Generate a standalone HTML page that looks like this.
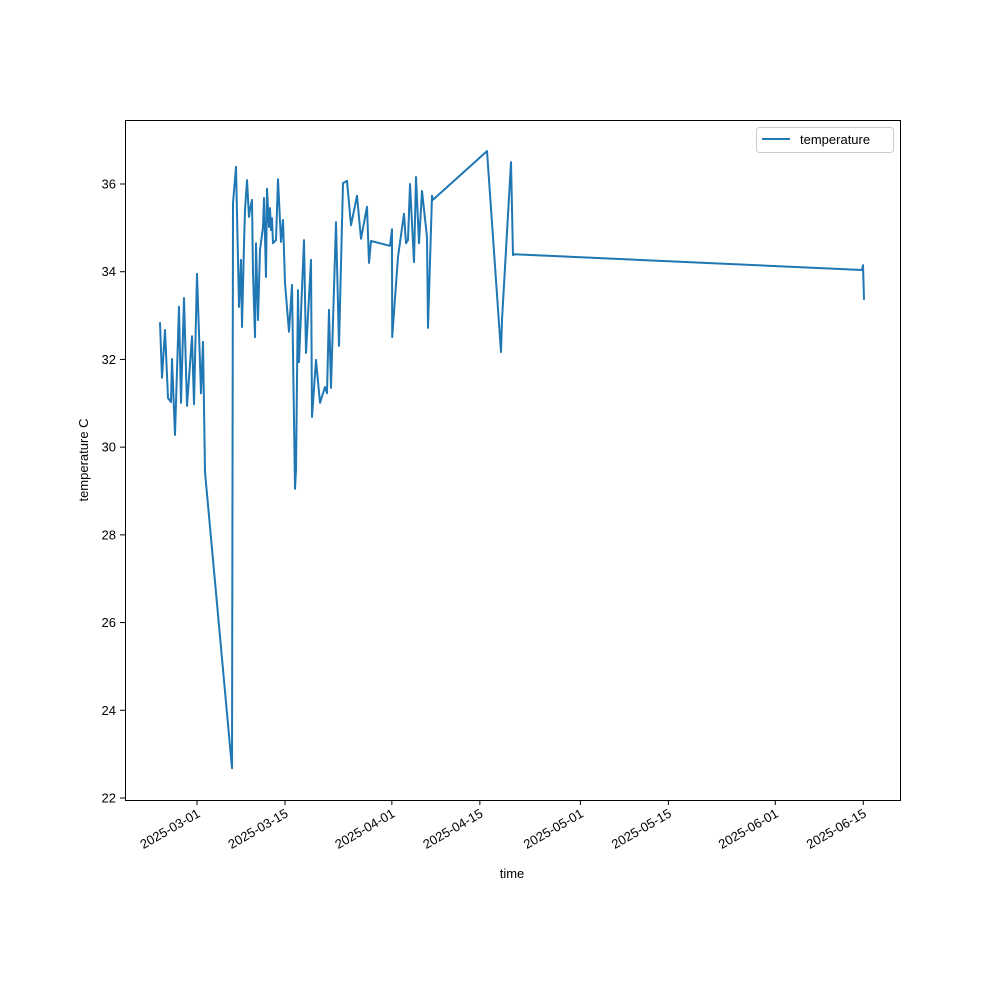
<!DOCTYPE html>
<html><head><meta charset="utf-8"><style>
body{margin:0;background:#fff}
svg{font-family:"Liberation Sans","DejaVu Sans",sans-serif}
</style></head><body>
<svg id="chart" width="1000" height="1000">
<rect x="0" y="0" width="1000" height="1000" fill="#fff"/>
<g id="plot"></g>
<rect x="125.5" y="120.5" width="775" height="680" fill="none" stroke="#000" stroke-width="1"/>
<g id="xt"></g><g id="yt"></g>
<text x="512" y="878" font-size="13" text-anchor="middle">time</text>
<text x="88" y="460" font-size="13" text-anchor="middle" transform="rotate(-90 88 460)">temperature C</text>
<g>
<rect x="756.5" y="127.5" width="137" height="25" rx="3" fill="#fff" stroke="#ccc"/>
<line x1="762" y1="139" x2="790" y2="139" stroke="#1f77b4" stroke-width="2"/>
<text x="800" y="144" font-size="13">temperature</text>
</g>
</svg>
<script>
const days=[-5.89,-5.57,-5.09,-4.61,-4.14,-3.98,-3.50,-2.86,-2.55,-2.07,-1.59,-0.80,-0.48,0,0.64,0.95,1.27,5.57,5.73,6.20,6.68,7.00,7.16,7.48,7.64,7.95,8.27,8.43,8.75,8.91,9.23,9.39,9.70,10.02,10.50,10.66,10.98,11.14,11.45,11.61,11.77,11.93,12.09,12.57,12.89,13.36,13.68,14.00,14.64,15.11,15.43,15.59,15.75,16.07,16.23,17.02,17.34,18.14,18.29,18.93,19.57,20.36,20.68,21.00,21.32,22.11,22.59,23.23,23.86,24.50,25.45,26.09,27.04,27.36,27.68,30.70,31.02,31.05,31.98,32.93,33.25,33.57,33.89,34.52,34.84,35.32,35.79,36.59,36.75,37.39,37.54,46.14,48.36,48.52,49.95,50.27,50.43,105.79,105.95,106.11];
const temps=[32.85,31.58,32.67,31.12,31.03,32.01,30.28,33.20,31.01,33.40,30.94,32.53,30.98,33.95,31.23,32.40,29.43,22.68,35.57,36.39,33.20,34.27,32.74,34.61,35.41,36.09,35.25,35.41,35.64,33.97,32.51,34.65,32.90,34.50,35.02,35.68,33.88,35.89,35.02,35.45,34.95,35.22,34.65,34.72,36.11,34.68,35.18,33.74,32.63,33.70,30.62,29.05,29.48,33.58,31.94,34.72,32.15,34.27,30.69,31.99,31.01,31.37,31.23,33.13,31.35,35.13,32.31,36.02,36.07,35.06,35.73,34.75,35.48,34.20,34.70,34.59,34.97,32.51,34.34,35.32,34.65,34.72,36.00,34.22,36.16,34.65,35.84,34.79,32.72,35.73,35.64,36.75,32.17,32.90,36.50,34.38,34.40,34.04,34.15,33.36];
const xTickDays=[0,14,31,45,61,75,92,106];
const xTickLabels=["2025-03-01","2025-03-15","2025-04-01","2025-04-15","2025-05-01","2025-05-15","2025-06-01","2025-06-15"];
const yTicks=[22,24,26,28,30,32,34,36];
const NS="http://www.w3.org/2000/svg";
const xs=d=>197+d*6.2857;
const ys=t=>798-(t-22)*43.857;
const plot=document.getElementById('plot');
const pl=document.createElementNS(NS,'polyline');
pl.setAttribute('points',days.map((d,i)=>xs(d).toFixed(1)+','+ys(temps[i]).toFixed(1)).join(' '));
pl.setAttribute('fill','none');pl.setAttribute('stroke','#1f77b4');pl.setAttribute('stroke-width','2');pl.setAttribute('stroke-linejoin','round');


plot.appendChild(pl);
const xt=document.getElementById('xt');
xTickDays.forEach((d,i)=>{
 const x=xs(d);
 const l=document.createElementNS(NS,'line');
 l.setAttribute('x1',x);l.setAttribute('x2',x);l.setAttribute('y1',800);l.setAttribute('y2',805);l.setAttribute('stroke','#000');
 
 
 xt.appendChild(l);
 const t=document.createElementNS(NS,'text');
 t.setAttribute('x',x+4);t.setAttribute('y',816);t.setAttribute('font-size','13');t.setAttribute('text-anchor','end');
 t.setAttribute('transform','rotate(-30 '+(x+4)+' 816)');
 t.textContent=xTickLabels[i];
 
 
 xt.appendChild(t);
});
const yt=document.getElementById('yt');
yTicks.forEach(v=>{
 const y=ys(v);
 const l=document.createElementNS(NS,'line');
 l.setAttribute('x1',120);l.setAttribute('x2',125);l.setAttribute('y1',y);l.setAttribute('y2',y);l.setAttribute('stroke','#000');
 
 
 yt.appendChild(l);
 const t=document.createElementNS(NS,'text');
 t.setAttribute('x',116);t.setAttribute('y',y+4.5);t.setAttribute('font-size','13');t.setAttribute('text-anchor','end');
 t.textContent=v;
 
 
 yt.appendChild(t);
});
</script>
</body></html>
